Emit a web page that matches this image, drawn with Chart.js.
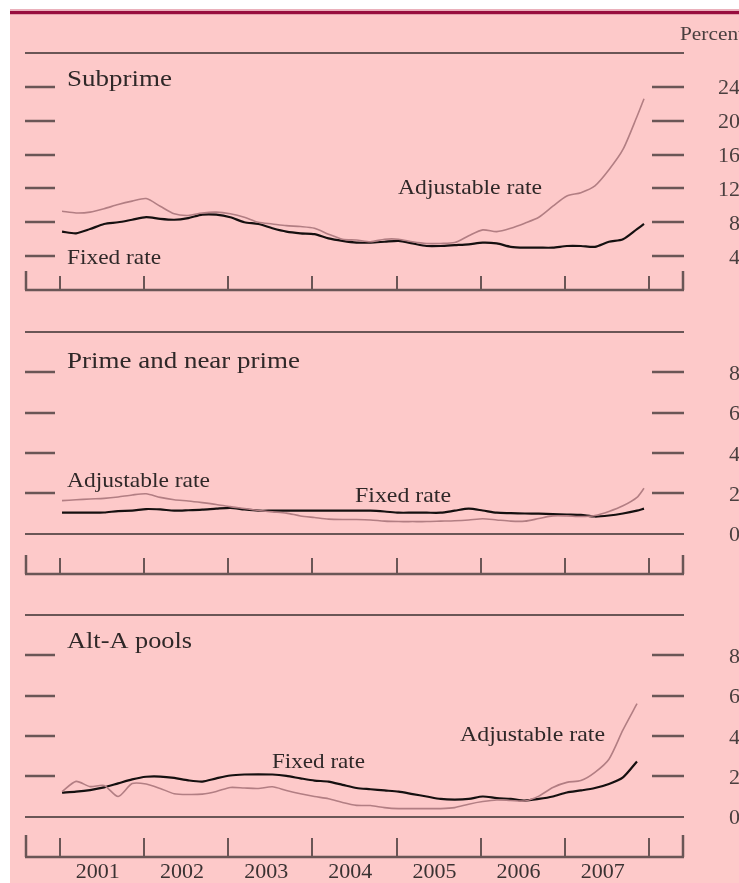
<!DOCTYPE html>
<html><head><meta charset="utf-8">
<script src="https://cdn.jsdelivr.net/npm/chart.js@4.4.1/dist/chart.umd.min.js"></script>
<style>
html,body{margin:0;padding:0;background:#fff;width:739px;height:883px;overflow:hidden;position:relative}
#bg{position:absolute;left:10px;top:9px;width:729px;height:874px;background:#fdc9c9}
#r1{position:absolute;left:10px;top:9px;width:729px;height:2px;background:#eab0bb}
#r2{position:absolute;left:10px;top:11px;width:729px;height:3px;background:#980d3e}
#r3{position:absolute;left:10px;top:14px;width:729px;height:1px;background:#e59fac}
canvas{position:absolute;left:0}
</style></head>
<body>
<div id="bg"></div><div id="r1"></div><div id="r2"></div><div id="r3"></div>
<canvas id="c1" width="739" height="285" style="top:20px"></canvas>
<canvas id="c2" width="739" height="280" style="top:310px"></canvas>
<canvas id="c3" width="739" height="288" style="top:595px"></canvas>
<script>
// ---- data (bi-monthly readings, Jan 2001 .. Dec 2007) ----
const periods = ['2001-01','2001-03','2001-05','2001-07','2001-09','2001-11',
 '2002-01','2002-03','2002-05','2002-07','2002-09','2002-11',
 '2003-01','2003-03','2003-05','2003-07','2003-09','2003-11',
 '2004-01','2004-03','2004-05','2004-07','2004-09','2004-11',
 '2005-01','2005-03','2005-05','2005-07','2005-09','2005-11',
 '2006-01','2006-03','2006-05','2006-07','2006-09','2006-11',
 '2007-01','2007-03','2007-05','2007-07','2007-09','2007-11','2007-12'];
const yearLabels = ['2001','2002','2003','2004','2005','2006','2007'];

const subprimeAdjustable = [9.3,9.1,9.2,9.6,10.1,10.5, 10.8,9.9,9.0,8.8,9.1,9.2, 9.0,8.6,8.0,7.8,7.6,7.5,
 7.3,6.6,6.0,5.9,5.7,6.0, 6.0,5.7,5.5,5.5,5.6,6.4, 7.1,6.9,7.3,7.9,8.6,9.9, 11.1,11.5,12.3,14.2,16.6,20.5,22.6];
const subprimeFixed = [6.9,6.7,7.2,7.8,8.0,8.3, 8.6,8.4,8.3,8.5,8.9,8.9, 8.6,8.0,7.8,7.3,6.9,6.7,
 6.6,6.1,5.8,5.6,5.6,5.7, 5.8,5.5,5.2,5.2,5.3,5.4, 5.6,5.5,5.1,5.0,5.0,5.0, 5.2,5.2,5.1,5.7,6.0,7.2,7.8];
const primeAdjustable = [1.64,1.68,1.72,1.75,1.82,1.92, 1.98,1.80,1.68,1.62,1.54,1.45, 1.34,1.25,1.15,1.08,1.02,0.88,
 0.80,0.72,0.70,0.70,0.68,0.62, 0.60,0.60,0.60,0.62,0.64,0.68, 0.74,0.68,0.62,0.62,0.75,0.88, 0.88,0.85,0.90,1.10,1.38,1.80,2.25];
const primeFixed = [1.04,1.04,1.04,1.05,1.12,1.14, 1.22,1.20,1.14,1.16,1.19,1.24, 1.28,1.20,1.14,1.14,1.14,1.14,
 1.14,1.14,1.14,1.14,1.14,1.10, 1.04,1.04,1.04,1.04,1.14,1.24, 1.15,1.04,1.02,1.00,0.99,0.97, 0.95,0.93,0.85,0.90,1.00,1.14,1.24];
const altAAdjustable = [1.24,1.75,1.49,1.55,1.00,1.64, 1.62,1.40,1.14,1.10,1.12,1.25, 1.45,1.42,1.40,1.48,1.30,1.14,
 1.00,0.89,0.70,0.56,0.55,0.45, 0.40,0.40,0.40,0.40,0.45,0.62, 0.75,0.83,0.80,0.78,1.02,1.45, 1.70,1.79,2.20,2.85,4.30,5.60,null];
const altAFixed = [1.19,1.24,1.32,1.45,1.65,1.85, 1.98,1.99,1.92,1.80,1.74,1.90, 2.04,2.09,2.10,2.09,2.02,1.90,
 1.79,1.74,1.58,1.42,1.36,1.30, 1.24,1.12,1.00,0.88,0.85,0.88, 1.00,0.92,0.88,0.80,0.88,1.00, 1.20,1.30,1.42,1.62,1.95,2.74,null];

const subprimeTicks = [4,8,12,16,20,24];
const lowerTicks = [0,2,4,6,8];

// ---- styling ----
const AXIS = '#6a5656';
const TEXT = '#2f2828';
const ADJ = '#b27e83';
const FIX = '#151010';
const SERIF = '"Liberation Serif","Times New Roman",serif';

function toX(p){ const [y,m] = p.split('-').map(Number); return y + (m-1)/12 + 0.024; }
function pts(vals){ return periods.map((p,i)=>({x:toX(p), y:vals[i]})); }

function seg(ctx,x1,y1,x2,y2,w){ ctx.lineWidth=w; ctx.beginPath(); ctx.moveTo(x1,y1); ctx.lineTo(x2,y2); ctx.stroke(); }
function txt(ctx,s,x,y,size,width,color,align){
  ctx.save();
  ctx.font = size+'px '+SERIF;
  const w = ctx.measureText(s).width;
  const sx = width ? width/w : 1;
  ctx.translate(x,y); ctx.scale(sx,1);
  ctx.textAlign = align||'left'; ctx.textBaseline='alphabetic';
  ctx.fillStyle = color||TEXT; ctx.fillText(s,0,0);
  ctx.restore();
}

const axesPlugin = {
  id:'axesDecor',
  beforeDatasetsDraw(chart, args, o){
    const ctx = chart.ctx, xs = chart.scales.x, ys = chart.scales.y, a = chart.chartArea;
    ctx.save(); ctx.strokeStyle = AXIS; ctx.lineCap='butt';
    seg(ctx, a.left, a.top, a.right, a.top, 2);
    if (o.zeroLine){ const y0 = Math.round(ys.getPixelForValue(0)); seg(ctx, a.left, y0, a.right, y0, 2); }
    o.ticks.forEach(v=>{
      if (v===0) return;
      const y = Math.round(ys.getPixelForValue(v));
      seg(ctx, a.left, y, a.left+30, y, 2.5);
      seg(ctx, a.right-32, y, a.right, y, 2.5);
    });
    const yb = Math.round(a.bottom);
    seg(ctx, a.left, yb, a.right, yb, 2.5);
    seg(ctx, a.left+1, yb, a.left+1, yb-o.endTick, 2.5);
    seg(ctx, a.right-1, yb, a.right-1, yb-o.endTick, 2.5);
    for (let yr=2001; yr<=2008; yr++){
      const x = Math.round(xs.getPixelForValue(yr));
      seg(ctx, x, yb, x, yb-o.yearTick, 2);
    }
    ctx.restore();
  },
  afterDatasetsDraw(chart, args, o){
    const ctx = chart.ctx, xs = chart.scales.x, ys = chart.scales.y;
    const off = o.offset;
    o.ticks.forEach(v=>{
      const y = ys.getPixelForValue(v);
      txt(ctx, String(v), 740, y+7.5, 22, 0, '#4a3f3f', 'right');
    });
    o.texts.forEach(t=> txt(ctx, t.s, t.x, t.y-off, t.size, t.w, t.c));
    if (o.years){
      yearLabels.forEach(l=>{
        const x = xs.getPixelForValue(Number(l)+0.45);
        txt(ctx, l, x, 878-off, 21, 44, '#3a3232', 'center');
      });
    }
  }
};

function makeChart(id, adj, fix, yMin, yMax, pad, deco){
  return new Chart(document.getElementById(id), {
    type:'line',
    data:{ datasets:[
      {data:pts(adj), borderColor:ADJ, borderWidth:1.6, pointRadius:0, tension:0.25, spanGaps:false},
      {data:pts(fix), borderColor:FIX, borderWidth:2.2, pointRadius:0, tension:0.25, spanGaps:false}
    ]},
    options:{
      responsive:false, animation:false, devicePixelRatio:1,
      layout:{padding:pad},
      scales:{
        x:{type:'linear', min:2000.584, max:2008.416, display:false},
        y:{type:'linear', min:yMin, max:yMax, display:false}
      },
      plugins:{legend:{display:false}, tooltip:{enabled:false}, axesDecor:deco}
    },
    plugins:[axesPlugin]
  });
}

makeChart('c1', subprimeAdjustable, subprimeFixed, 0, 28,
  {left:25, right:55, top:33, bottom:15},
  {offset:20, zeroLine:false, ticks:subprimeTicks, endTick:19, yearTick:14, years:false,
   texts:[
     {s:'Percent', x:680, y:40, size:18, w:64, c:'#4a3f3f'},
     {s:'Subprime', x:67, y:86, size:24, w:105},
     {s:'Fixed rate', x:67, y:264, size:21, w:94},
     {s:'Adjustable rate', x:398, y:194, size:21, w:144}
   ]});

makeChart('c2', primeAdjustable, primeFixed, -2, 10,
  {left:25, right:55, top:22, bottom:16},
  {offset:310, zeroLine:true, ticks:lowerTicks, endTick:19, yearTick:16, years:false,
   texts:[
     {s:'Prime and near prime', x:67, y:368, size:24, w:233},
     {s:'Adjustable rate', x:67, y:487, size:21, w:143},
     {s:'Fixed rate', x:355, y:502, size:21, w:96}
   ]});

makeChart('c3', altAAdjustable, altAFixed, -2, 10,
  {left:25, right:55, top:20, bottom:26},
  {offset:595, zeroLine:true, ticks:lowerTicks, endTick:22, yearTick:19, years:true,
   texts:[
     {s:'Alt-A pools', x:67, y:648, size:24, w:125},
     {s:'Fixed rate', x:272, y:768, size:21, w:93},
     {s:'Adjustable rate', x:460, y:741, size:21, w:145}
   ]});
</script>
</body></html>
